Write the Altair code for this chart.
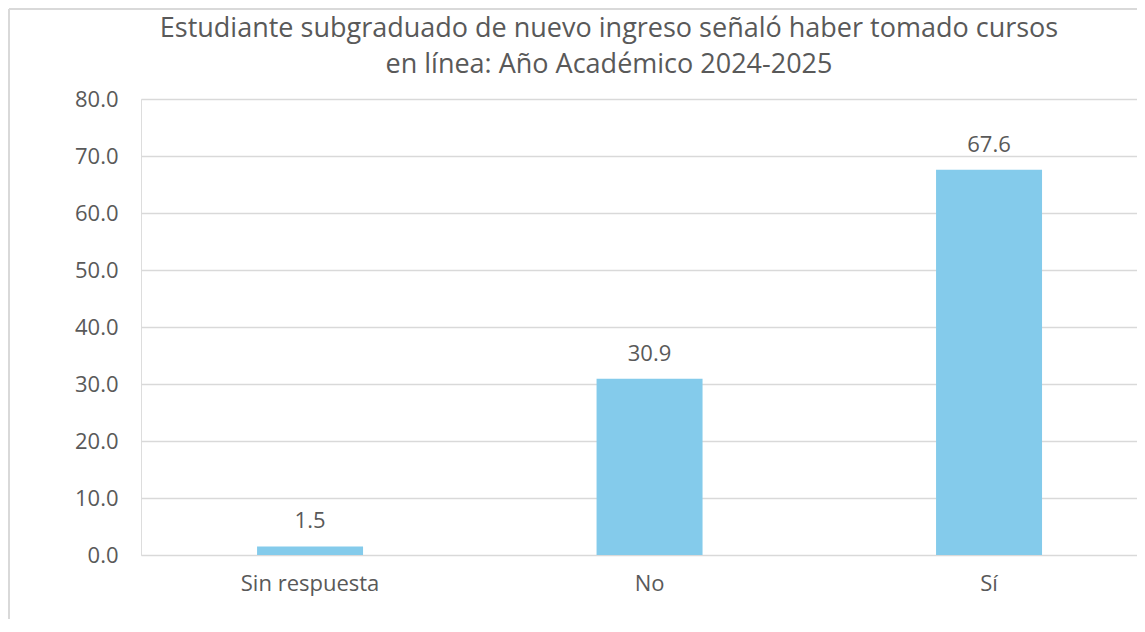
import altair as alt
import pandas as pd

categories = ["Sin respuesta", "No", "Sí"]
values = [1.5, 30.9, 67.6]
title_lines = [
    "Estudiante subgraduado de nuevo ingreso señaló haber tomado cursos",
    "en línea: Año Académico 2024-2025",
]
y_ticks = [0, 10, 20, 30, 40, 50, 60, 70, 80]

df = pd.DataFrame({"cat": categories, "val": values})
title_df = pd.DataFrame({"line": title_lines, "yy": [-62, -26]})

FONT = "Open Sans"
GREY = "#595959"
W, H = 996, 456
FS = 22

x_enc = alt.X(
    "cat:N",
    sort=categories,
    title=None,
    scale=alt.Scale(paddingInner=0.6878, paddingOuter=0.3108, align=0.55),
    axis=alt.Axis(
        labelAngle=0, labelFontSize=FS, labelColor=GREY, labelFont=FONT,
        labelPadding=18, ticks=False, domain=False, grid=False,
    ),
)
y_enc = alt.Y(
    "val:Q",
    title=None,
    scale=alt.Scale(domain=[0, 80], nice=False),
    axis=alt.Axis(
        values=y_ticks, format=".1f", labelFontSize=FS, labelColor=GREY,
        labelFont=FONT, labelPadding=23, ticks=False, domain=False,
        gridColor="#d9d9d9", gridWidth=1.5,
    ),
)

bars = alt.Chart(df).mark_bar(color="#84CBEB").encode(x=x_enc, y=y_enc)
labels = alt.Chart(df).mark_text(
    dy=-18, baseline="alphabetic", fontSize=FS, font=FONT, color=GREY
).encode(x=alt.X("cat:N", sort=categories), y="val:Q", text=alt.Text("val:Q", format=".1f"))

title = alt.Chart(title_df).mark_text(
    fontSize=27, font=FONT, color=GREY, baseline="alphabetic", align="center"
).encode(x=alt.value(468), y=alt.Y("yy:Q", scale=None), text="line:N")

border = pd.DataFrame({"a": [0]})
left_border = alt.Chart(border).mark_rule(color="#d9d9d9", strokeWidth=2).encode(
    x=alt.value(-132), y=alt.value(-90), y2=alt.value(H + 64)
)
top_border = alt.Chart(border).mark_rule(color="#d9d9d9", strokeWidth=2).encode(
    x=alt.value(-132), x2=alt.value(W), y=alt.value(-90)
)

chart = (
    alt.layer(left_border, top_border, bars, labels, title)
    .properties(
        width=W,
        height=H,
        autosize=alt.AutoSizeParams(type="none"),
        padding={"left": 133, "top": 91, "right": 0, "bottom": 64},
    )
    .configure_view(stroke=None)
    .configure(background="white")
)

chart.save("out.html", embed_options={"renderer": "svg", "actions": False})
